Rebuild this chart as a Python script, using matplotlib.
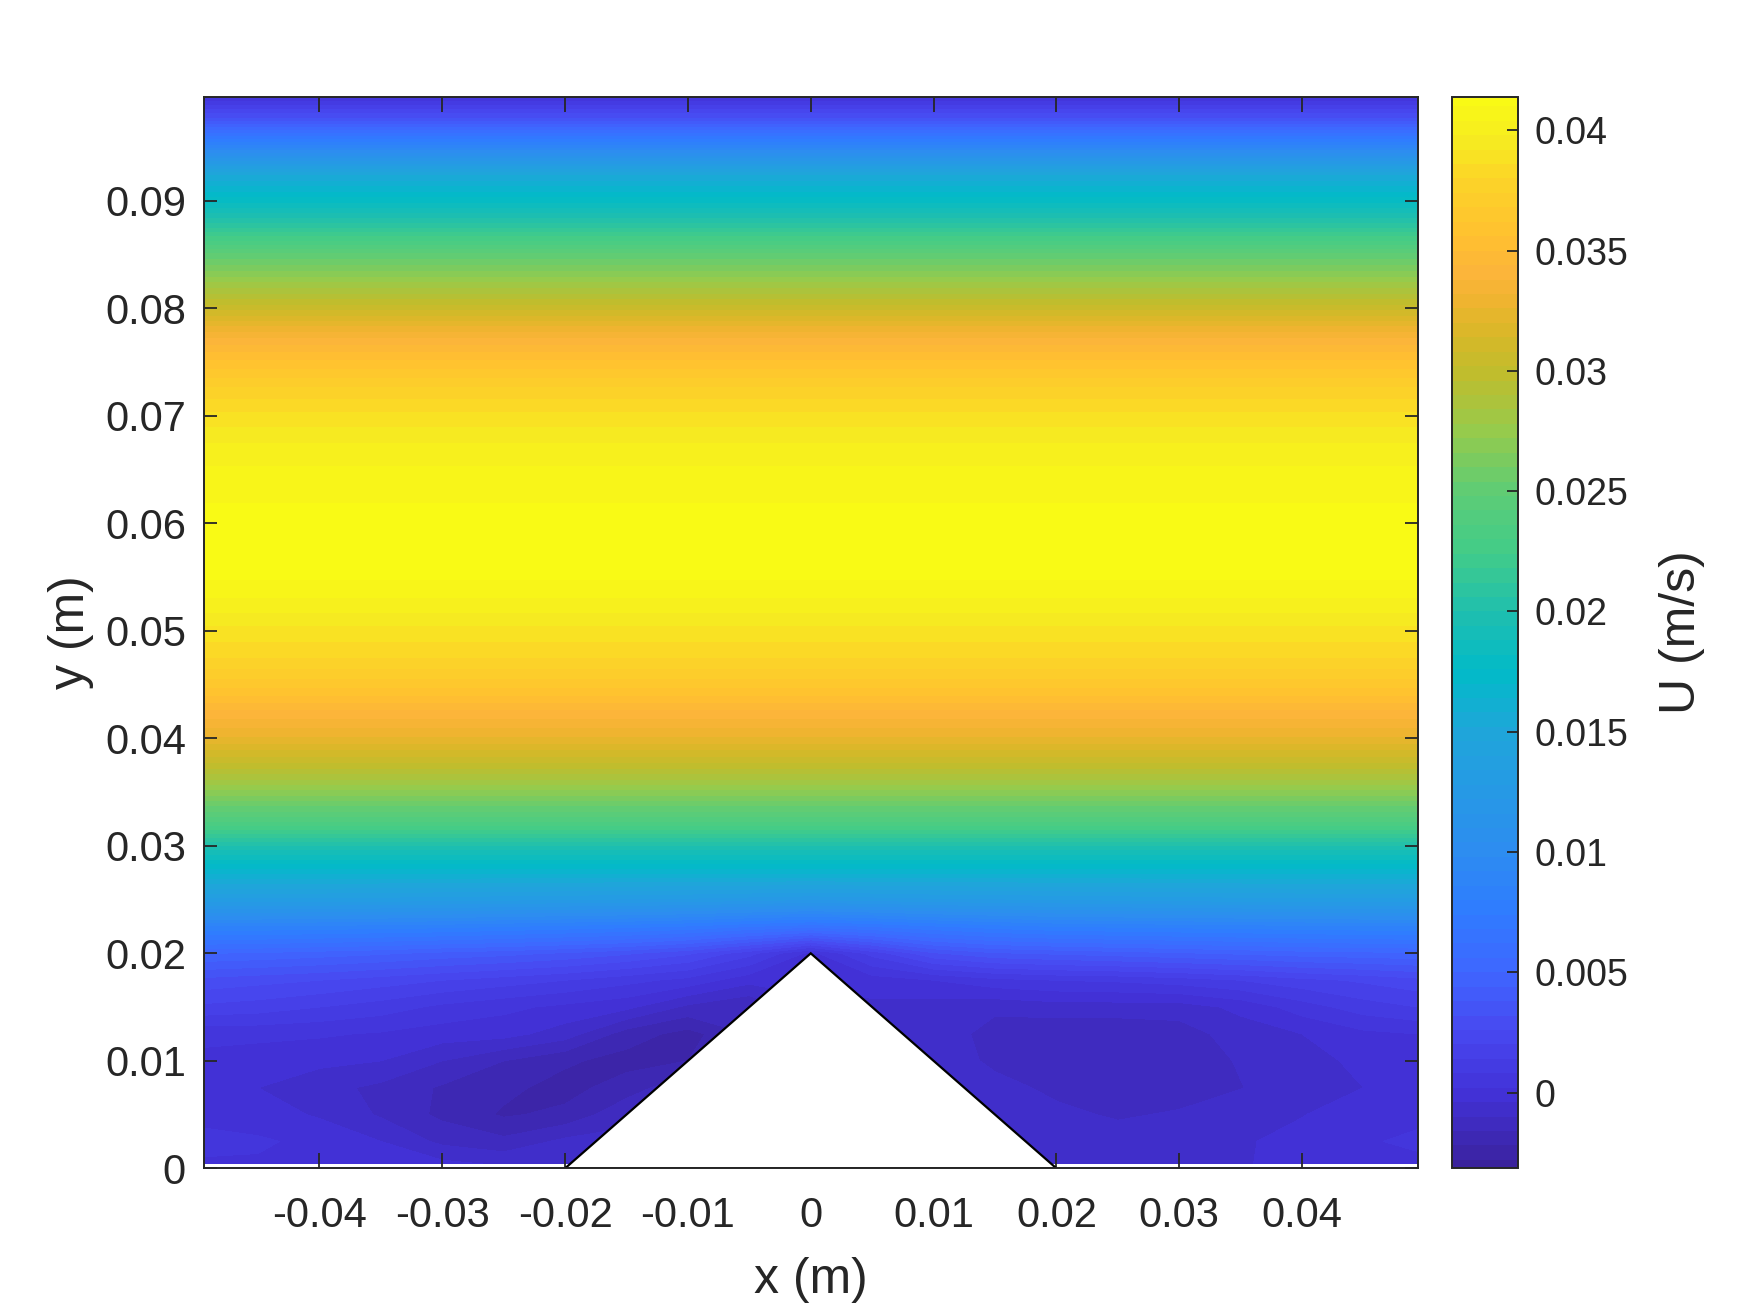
#!/usr/bin/env python3
import numpy as np
import matplotlib
matplotlib.use("Agg")
import matplotlib.pyplot as plt
from matplotlib.colors import LinearSegmentedColormap, Normalize

plt.rcParams['font.family'] = ['Liberation Sans', 'DejaVu Sans']
plt.rcParams['axes.unicode_minus'] = False

# grid
x_grid = [-0.0494, -0.045, -0.04, -0.035, -0.03, -0.025, -0.02, -0.015, -0.01, -0.005, 0.0,
          0.005, 0.01, 0.015, 0.02, 0.025, 0.03, 0.035, 0.04, 0.045, 0.0494]

# near the hill, U varies with x (values under the hill are only there to keep contours running into the wall)
y_low = [0.0004, 0.0025, 0.005, 0.0075, 0.01, 0.0125, 0.015, 0.0175, 0.02, 0.0225, 0.025]
u_low = [
    [.00013, .00013, .00008, -.0001, -.00025, -.00048, -.00055, -.00055, -.00055, -.00055, -.00055,
     -.00055, -.00055, -.00055, -.00055, -.00055, -.00055, -.00048, -.0001, .00005, .00005],
    [.00035, .00028, .00005, -.0004, -.00115, -.00145, -.00085, -.00085, -.0007, -.0007, -.0007,
     -.0007, -.0007, -.0007, -.0007, -.0007, -.0007, -.00048, -.00018, .00013, .00032],
    [.00005, -.0001, -.00048, -.00108, -.00175, -.00228, -.00205, -.00115, -.00115, -.0010, -.00085,
     -.00085, -.0007, -.0007, -.00085, -.00108, -.00093, -.00055, -.00043, -.00003, .00005],
    [-.0001, -.0004, -.00078, -.00115, -.00168, -.00205, -.00243, -.0019, -.00115, -.0010, -.00085,
     -.00085, -.0007, -.00078, -.00115, -.00138, -.0013, -.00103, -.00055, -.0004, -.00025],
    [.00005, -.0001, -.00025, -.0004, -.0010, -.0016, -.0021, -.00243, -.0022, -.0013, -.0010,
     -.00085, -.00055, -.00115, -.00145, -.00153, -.00145, -.00093, -.00063, -.00025, -.0001],
    [.00035, .00035, .00028, .00013, -.0001, -.00018, -.0007, -.0019, -.00243, -.0016, -.00055,
     -.00055, -.00055, -.0013, -.00145, -.00145, -.0013, -.0007, -.0004, .00005, .0002],
    [.00185, .0017, .0014, .0011, .00065, .00035, .00005, -.00025, -.00115, -.0016, -.00055,
     -.00055, -.0007, -.00085, -.0007, -.0007, -.0007, -.00025, .0005, .0011, .0014],
    [.0030, .0028, .0026, .0023, .0020, .0017, .0014, .0010, .0006, -.0002, -.0002,
     -.0001, .0002, .0006, .0008, .0009, .0011, .0014, .0018, .0021, .0024],
    [.0050, .0049, .0047, .0045, .0042, .0040, .0037, .0033, .0027, .0016, .0000,
     .0016, .0031, .0037, .0039, .0041, .0043, .0045, .0047, .0048, .0049],
    [.0085, .0085, .0084, .0083, .0082, .0080, .0078, .0076, .0073, .0068, .0064,
     .0068, .0073, .0077, .0080, .0081, .0082, .0083, .0084, .0085, .0085],
    [.0132, .0132, .0132, .0131, .0130, .0129, .0128, .0127, .0126, .0124, .0122,
     .0124, .0126, .0127, .0128, .0129, .0130, .0131, .0132, .0132, .0132],
]

# higher up the profile is nearly flat in x
y_high = [0.0275, 0.03, 0.0325, 0.035, 0.0375, 0.04, 0.0425, 0.045, 0.0475, 0.05, 0.0525, 0.055,
          0.06, 0.065, 0.0675, 0.07, 0.0725, 0.075, 0.0775, 0.08, 0.0825, 0.085, 0.0875, 0.09,
          0.0925, 0.095, 0.0975, 0.0997]
u_high = [.0165, .0200, .0240, .0270, .0300, .0325, .0343, .0365, .0380, .0390, .0402, .0411,
          .0413, .0405, .0398, .0388, .0375, .0358, .0336, .0306, .0277, .0250, .0212, .0180,
          .0150, .0090, .0035, .0002]

hill_x = [-0.02, 0.0, 0.02]
hill_y = [0.0, 0.02, 0.0]

cmap_vals = [-.00315, 0.0, .0025, .005, .0075, .01, .015, .0175, .02, .0225, .025, .0275, .03,
             .0315, .033, .0342, .0355, .038, .0397, .0414]
cmap_cols = ['#3a229c', '#4232d8', '#4848f0', '#3f66ff', '#2f7cff', '#2d8cf0', '#1fa6da', '#02bac8',
             '#20bfae', '#42cc88', '#5fcc75', '#95cb4c', '#c2bc2c', '#d8b828', '#f0b430', '#fcb53a',
             '#ffc030', '#fcd428', '#f6ec20', '#f9fb14']

x_ticks = [-0.04, -0.03, -0.02, -0.01, 0, 0.01, 0.02, 0.03, 0.04]
x_labels = ['-0.04', '-0.03', '-0.02', '-0.01', '0', '0.01', '0.02', '0.03', '0.04']
y_ticks = [0, 0.01, 0.02, 0.03, 0.04, 0.05, 0.06, 0.07, 0.08, 0.09]
y_labels = ['0', '0.01', '0.02', '0.03', '0.04', '0.05', '0.06', '0.07', '0.08', '0.09']
c_ticks = [0, 0.005, 0.01, 0.015, 0.02, 0.025, 0.03, 0.035, 0.04]
c_labels = ['0', '0.005', '0.01', '0.015', '0.02', '0.025', '0.03', '0.035', '0.04']

INK = '#262626'
W, H = 1750.0, 1313.0


def main():
    y_grid = np.array(y_low + y_high)
    u_grid = np.vstack([np.array(u_low), np.tile(np.array(u_high)[:, None], (1, len(x_grid)))])

    vmin, vmax = cmap_vals[0], cmap_vals[-1]
    stops = [(v - vmin) / (vmax - vmin) for v in cmap_vals]
    cmap = LinearSegmentedColormap.from_list('flow', list(zip(stops, cmap_cols)), N=512)
    norm = Normalize(vmin, vmax)
    levels = np.arange(-0.0034, 0.04241, 0.0006)

    fig = plt.figure(figsize=(W / 100, H / 100), dpi=100)
    ax = fig.add_axes([204 / W, 1 - 1168.3 / H, (1417.5 - 204) / W, (1168.3 - 96.7) / H])
    cs = ax.contourf(x_grid, y_grid, u_grid, levels=levels, cmap=cmap, norm=norm)
    ax.fill(hill_x, hill_y, facecolor='white', edgecolor='black', linewidth=1.6, zorder=3)

    ax.set_xlim(-0.0494, 0.0494)
    ax.set_ylim(0, 0.0997)
    ax.set_xticks(x_ticks, x_labels)
    ax.set_yticks(y_ticks, y_labels)
    ax.tick_params(axis='x', direction='in', top=True, length=10.5, width=1.3, color=INK,
                   labelcolor=INK, labelsize=30, pad=20)
    ax.tick_params(axis='y', direction='in', right=True, length=9.4, width=1.3, color=INK,
                   labelcolor=INK, labelsize=30, pad=13)
    for s in ax.spines.values():
        s.set_color(INK)
        s.set_linewidth(1.4)
        s.set_zorder(5)
    ax.set_xlabel('x (m)', fontsize=36, color=INK)
    ax.set_ylabel('y (m)', fontsize=36, color=INK)
    ax.xaxis.set_label_coords(0.5, -0.083)
    ax.yaxis.set_label_coords(-0.091, 0.5)

    cax = fig.add_axes([1452 / W, 1 - 1168.3 / H, (1518 - 1452) / W, (1168.3 - 96.7) / H])
    cb = fig.colorbar(cs, cax=cax)
    cax.set_ylim(vmin, vmax)
    cb.set_ticks(c_ticks, labels=c_labels)
    cb.minorticks_off()
    cax.tick_params(axis='y', direction='in', length=8, width=1.3, color=INK, labelcolor=INK,
                    labelsize=27, pad=12)
    cb.outline.set_edgecolor(INK)
    cb.outline.set_linewidth(1.4)
    cb.set_label('U (m/s)', fontsize=36, color=INK)
    cax.yaxis.set_label_coords(3.14, 0.5)

    fig.savefig('out.png', dpi=100)


if __name__ == '__main__':
    main()
